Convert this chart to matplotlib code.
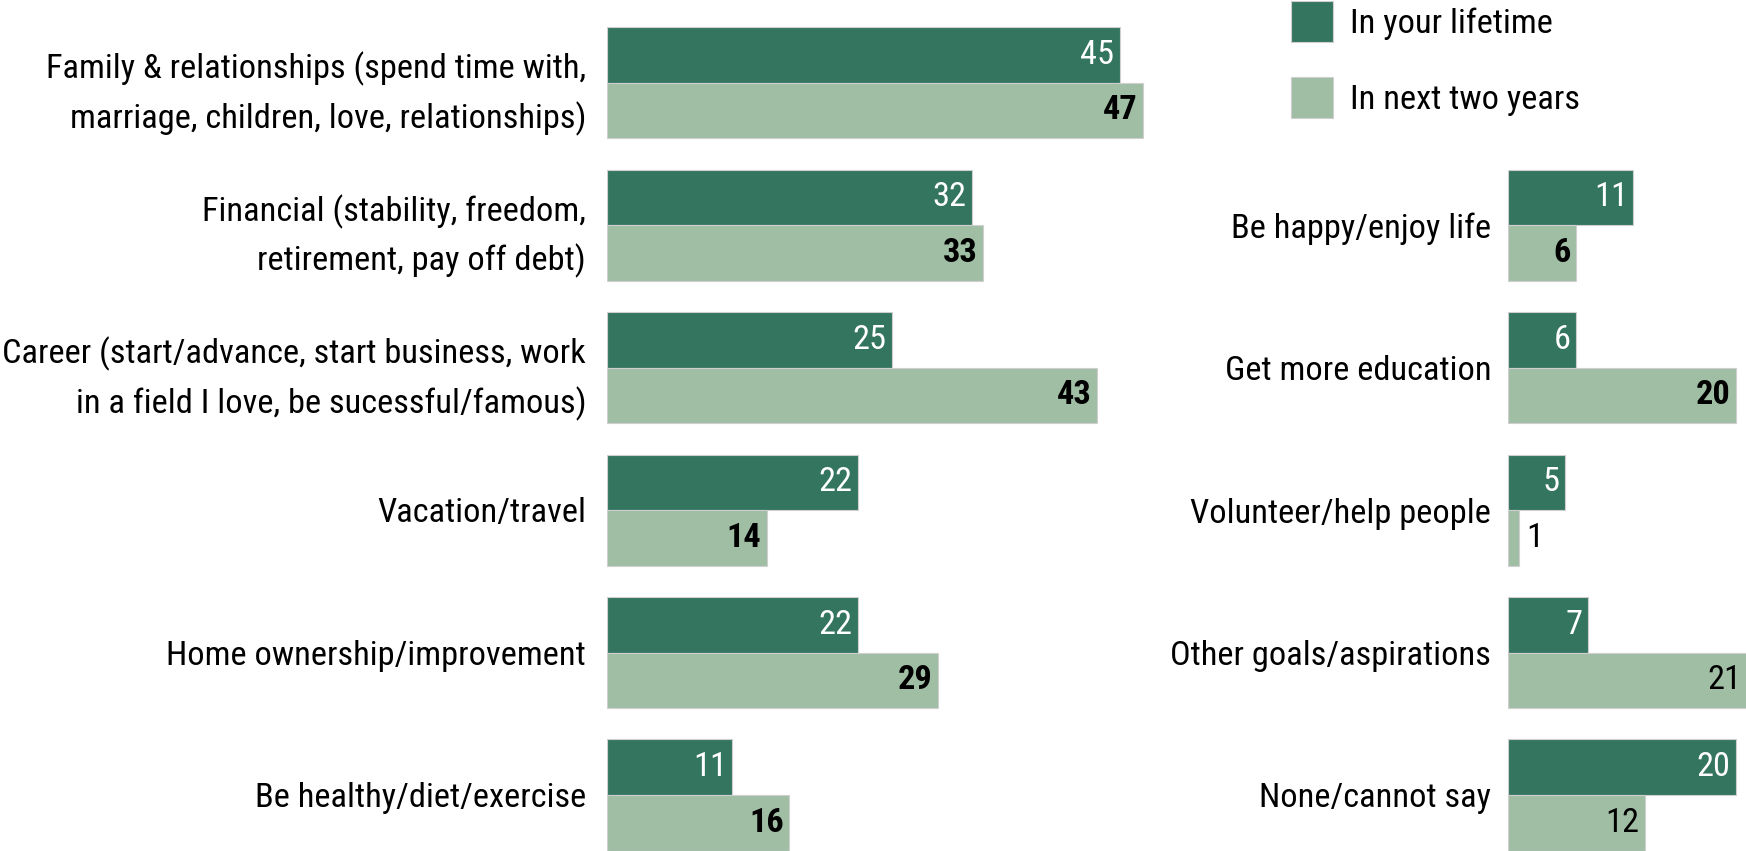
import matplotlib
matplotlib.use("Agg")
import matplotlib.pyplot as plt
from matplotlib import font_manager
from matplotlib.patches import Patch

# pick a narrow sans; fall back to regular width
names = {f.name for f in font_manager.fontManager.ttflist}
family = "Liberation Sans"
for cand in ["Liberation Sans Narrow", "Arial Narrow", "Roboto Condensed",
             "Archivo Narrow", "PT Sans Narrow", "IBM Plex Sans Condensed"]:
    if cand in names:
        family = cand
        break
plt.rcParams["font.family"] = [family, "DejaVu Sans"]

# ---- data ----
left_cats = [
    "Family & relationships (spend time with,\nmarriage, children, love, relationships)",
    "Financial (stability, freedom,\nretirement, pay off debt)",
    "Career (start/advance, start business, work\nin a field I love, be sucessful/famous)",
    "Vacation/travel",
    "Home ownership/improvement",
    "Be healthy/diet/exercise",
]
left_lifetime = [45, 32, 25, 22, 22, 11]
left_two_years = [47, 33, 43, 14, 29, 16]

right_cats = [
    "Be happy/enjoy life",
    "Get more education",
    "Volunteer/help people",
    "Other goals/aspirations",
    "None/cannot say",
]
right_lifetime = [11, 6, 5, 7, 20]
right_two_years = [6, 20, 1, 21, 12]

# which of the right-hand "two years" numbers are set in bold
right_bold = [True, True, False, False, False]

DARK = "#347560"
LIGHT = "#a0bea4"
EDGE = "#cfcfcf"

W, H = 1746, 851
PX_PER_UNIT = 11.4
ROW_PITCH = 142.5
FIRST_ROW = 82.5
BAR_H = 55.5 / ROW_PITCH

fig = plt.figure(figsize=(W / 100, H / 100), dpi=100)

# size the text so "Get more education" comes out ~266 px wide
probe = fig.text(0, 0, "Get more education", fontsize=26.5)
w_probe = probe.get_window_extent(renderer=fig.canvas.get_renderer()).width
probe.remove()
FS = min(26.5, 26.5 * 266 / w_probe)


def make_axes(x0, x1):
    ax = fig.add_axes([x0 / W, 0, (x1 - x0) / W, 1])
    ax.set_xlim(0, (x1 - x0) / PX_PER_UNIT)
    ax.set_ylim((H - FIRST_ROW) / ROW_PITCH, -FIRST_ROW / ROW_PITCH)
    for s in ax.spines.values():
        s.set_visible(False)
    ax.set_xticks([])
    return ax


def draw_group(ax, rows, cats, lifetime, two_years, bold, pad):
    for y, a, b, bb in zip(rows, lifetime, two_years, bold):
        ax.barh(y - BAR_H / 2, a, height=BAR_H, color=DARK, edgecolor=EDGE, linewidth=0.8)
        ax.barh(y + BAR_H / 2, b, height=BAR_H, color=LIGHT, edgecolor=EDGE, linewidth=0.8)
        ax.annotate(str(a), xy=(a, y - BAR_H / 2), xytext=(-4, 0), textcoords="offset points",
                    ha="right", va="center", color="white", fontsize=FS, annotation_clip=False)
        weight = "bold" if bb else "normal"
        if b < 3:
            # too short to hold its number, put it just past the end
            ax.annotate(str(b), xy=(b, y + BAR_H / 2), xytext=(5, 0), textcoords="offset points",
                        ha="left", va="center", color="black", fontsize=FS,
                        fontweight=weight, annotation_clip=False)
        else:
            ax.annotate(str(b), xy=(b, y + BAR_H / 2), xytext=(-4, 0), textcoords="offset points",
                        ha="right", va="center", color="black", fontsize=FS,
                        fontweight=weight, annotation_clip=False)
    ax.set_yticks(rows, cats)
    ax.tick_params(axis="y", length=0, pad=pad, labelsize=FS)
    for lbl in ax.get_yticklabels():
        lbl.set_linespacing(1.55)
        lbl.set_multialignment("right")


ax1 = make_axes(607, 1250)
draw_group(ax1, list(range(6)), left_cats, left_lifetime, left_two_years,
           [True] * 6, pad=15)

ax2 = make_axes(1508, W)
draw_group(ax2, list(range(1, 6)), right_cats, right_lifetime, right_two_years,
           right_bold, pad=12)

px = FS * 100 / 72
handles = [Patch(facecolor=DARK, edgecolor=EDGE, linewidth=0.8, label="In your lifetime"),
           Patch(facecolor=LIGHT, edgecolor=EDGE, linewidth=0.8, label="In next two years")]
fig.legend(handles=handles, loc="upper left", bbox_to_anchor=(1291 / W, 1 - 1 / H),
           frameon=False, fontsize=FS, borderpad=0, borderaxespad=0,
           handlelength=42 / px, handleheight=50 / px,
           labelspacing=35 / px, handletextpad=17 / px)

fig.savefig("out.png", dpi=100)
